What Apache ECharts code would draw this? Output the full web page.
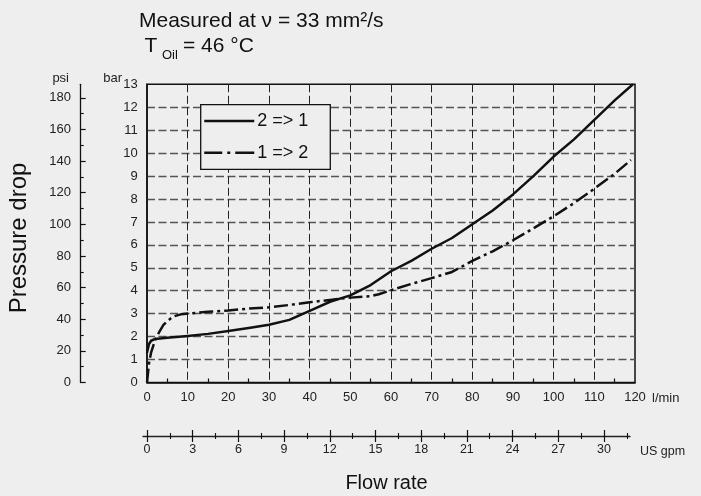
<!DOCTYPE html>
<html><head><meta charset="utf-8">
<script src="https://cdn.jsdelivr.net/npm/echarts@6/dist/echarts.min.js"></script>
<style>html,body{margin:0;padding:0;background:#edeeed}#c{width:701px;height:496px}</style>
</head><body><div id="c"></div>
<script>
// Data (l/min -> bar)
const flow21 = [0,0.5,1,2,5,10,15,20,25,30,35,40,45,50,55,60,65,70,75,80,85,90,95,100,105,110,115,119.5];
const drop21 = [1.3,1.68,1.82,1.9,1.95,2.03,2.12,2.25,2.38,2.52,2.73,3.12,3.52,3.8,4.25,4.85,5.3,5.83,6.3,6.9,7.5,8.2,9.0,9.85,10.6,11.45,12.3,13.0];
const flow12 = [0,0.5,1,2,3,4,5,6.5,8.5,11,15,20,25,30,35,40,45,50,55,57,60,65,70,75,80,85,90,95,100,105,110,115,119];
const drop12 = [0,0.85,1.3,1.85,2.2,2.5,2.68,2.88,2.98,3.02,3.08,3.14,3.22,3.28,3.38,3.5,3.6,3.7,3.76,3.85,4.02,4.3,4.55,4.82,5.3,5.72,6.2,6.72,7.25,7.82,8.45,9.1,9.7];
// Tick labels
const psiTicks = [0,20,40,60,80,100,120,140,160,180];
const psiMinor = [10,30,50,70,90,110,130,150,170];
const gpmTicks = [0,3,6,9,12,15,18,21,24,27,30];
const gpmMinor = [1.5,4.5,7.5,10.5,13.5,16.5,19.5,22.5,25.5,28.5,31.5];
const seriesNames = ['2 => 1', '1 => 2'];

const BAR_MAX = 13;
const PSI_PER_BAR = 14.5038;
const GPM_MIN = -0.263, GPM_MAX = 31.71;
const FF = 'Liberation Sans, Arial, sans-serif';
const INK = '#111';

const pairs = (xs, ys) => xs.map((x, i) => [x, ys[i]]);

const chart = echarts.init(document.getElementById('c'), null, {renderer: 'canvas'});
const gpmAxis = (extra) => Object.assign({
  type: 'value', gridIndex: 1, min: GPM_MIN, max: GPM_MAX, position: 'bottom',
  axisLine: {show: false}, axisLabel: {show: false}, splitLine: {show: false},
  axisTick: {show: true, lineStyle: {color: INK, width: 1.2}}
}, extra);

chart.setOption({
  backgroundColor: '#edeeed',
  animation: false,
  textStyle: {fontFamily: FF},
  title: [
    {text: 'Measured at ν = 33 mm²/s', left: 139, top: 10.3, padding: 0,
     textStyle: {fontSize: 21, fontWeight: 'normal', color: INK, fontFamily: FF}},
    {text: 'T', left: 144.5, top: 35.3, padding: 0,
     textStyle: {fontSize: 21, fontWeight: 'normal', color: INK, fontFamily: FF}},
    {text: 'Oil', left: 162, top: 48.5, padding: 0,
     textStyle: {fontSize: 13, fontWeight: 'normal', color: INK, fontFamily: FF}},
    {text: '= 46 °C', left: 183, top: 35.3, padding: 0,
     textStyle: {fontSize: 21, fontWeight: 'normal', color: INK, fontFamily: FF}}
  ],
  legend: {
    orient: 'vertical', left: 200.7, top: 104.7, padding: [7.3, 22, 7.6, 2.3],
    itemWidth: 50, itemHeight: 18, itemGap: 13.7, selectedMode: false,
    borderColor: INK, borderWidth: 1.3, backgroundColor: '#edeeed',
    itemStyle: {opacity: 0, borderWidth: 0},
    textStyle: {fontSize: 18, color: INK, fontFamily: FF, padding: [0, 0, 0, -2]},
    data: [
      {name: seriesNames[0], itemStyle: {opacity: 0}, lineStyle: {width: 2.5, color: INK}},
      {name: seriesNames[1], itemStyle: {opacity: 0}, lineStyle: {type: [18, 5, 3, 5, 19], width: 2.5, color: INK}}
    ]
  },
  grid: [
    {left: 147, right: 66, top: 84.3, bottom: 113.5, show: true, borderColor: INK, borderWidth: 1.5, backgroundColor: 'transparent'},
    {left: 143, right: 71, top: 435, height: 1}
  ],
  graphic: [
    {type: 'text', x: 19.5, y: 238, rotation: Math.PI / 2,
     style: {text: 'Pressure drop', fontSize: 24, fill: INK, align: 'center', verticalAlign: 'middle', fontFamily: FF}}
  ],
  xAxis: [
    {type: 'value', gridIndex: 0, min: 0, max: 120, interval: 10,
     name: 'l/min', nameLocation: 'end', nameGap: 17, nameMoveOverlap: false,
     nameTextStyle: {fontSize: 13, color: '#222', verticalAlign: 'top', padding: [9, 0, 0, 0]},
     axisLine: {show: true, lineStyle: {color: INK, width: 1.5}},
     axisTick: {show: false, inside: true},
     minorTick: {show: true, splitNumber: 2, length: 4, lineStyle: {color: INK, width: 1.2}},
     axisLabel: {fontSize: 13, color: '#222', margin: 8.5},
     splitLine: {show: true, showMinLine: false, showMaxLine: false, lineStyle: {type: [8, 3.5], color: '#222', width: 1}}},
    gpmAxis({axisLine: {show: true, lineStyle: {color: '#222', width: 1.3}},
      axisTick: {show: true, length: 6, customValues: gpmTicks, lineStyle: {color: INK, width: 1.2}},
      axisLabel: {show: true, customValues: gpmTicks, fontSize: 12.5, color: '#222', margin: 6.8},
      name: 'US gpm', nameLocation: 'end', nameGap: 10, nameMoveOverlap: false,
      nameTextStyle: {fontSize: 12.5, color: '#222', verticalAlign: 'top', padding: [9.5, 0, 0, 0]}}),
    gpmAxis({axisTick: {show: true, inside: true, length: 6, customValues: gpmTicks, lineStyle: {color: INK, width: 1.2}},
      name: 'Flow rate', nameLocation: 'middle', nameGap: 37.5, nameMoveOverlap: false,
      nameTextStyle: {fontSize: 20, color: INK}}),
    gpmAxis({axisTick: {show: true, length: 3, customValues: gpmMinor, lineStyle: {color: INK, width: 1.1}}}),
    gpmAxis({axisTick: {show: true, inside: true, length: 3, customValues: gpmMinor, lineStyle: {color: INK, width: 1.1}}})
  ],
  yAxis: [
    {type: 'value', gridIndex: 0, min: 0, max: BAR_MAX, interval: 1, position: 'left',
     name: 'bar', nameLocation: 'end', nameGap: 6, nameMoveOverlap: false,
     nameTextStyle: {fontSize: 13, color: '#222', align: 'right', verticalAlign: 'middle', padding: [0, 25, 0, 0]},
     axisLine: {show: true, lineStyle: {color: INK, width: 1.5}},
     axisTick: {show: false},
     axisLabel: {fontSize: 13, color: '#222', margin: 9.3},
     splitLine: {show: true, showMinLine: false, showMaxLine: false, lineStyle: {type: [8, 3.5], color: '#555', width: 1.3}}},
    {type: 'value', gridIndex: 0, min: 0, max: BAR_MAX * PSI_PER_BAR, position: 'left', offset: 66.3,
     name: 'psi', nameLocation: 'end', nameGap: 6, nameMoveOverlap: false,
     nameTextStyle: {fontSize: 13, color: '#222', align: 'right', verticalAlign: 'middle', padding: [0, 11.7, 0, 0]},
     axisLine: {show: true, lineStyle: {color: INK, width: 1.3}},
     axisTick: {show: true, inside: true, length: 5, customValues: psiTicks, lineStyle: {color: INK, width: 1.2}},
     axisLabel: {show: true, customValues: psiTicks, fontSize: 13, color: '#222', margin: 9.7},
     splitLine: {show: false}},
    {type: 'value', gridIndex: 0, min: 0, max: BAR_MAX * PSI_PER_BAR, position: 'left', offset: 66.3,
     axisLine: {show: false}, axisLabel: {show: false}, splitLine: {show: false},
     axisTick: {show: true, inside: true, length: 3, customValues: psiMinor, lineStyle: {color: INK, width: 1.1}}},
    {type: 'value', gridIndex: 1, min: 0, max: 1, show: false}
  ],
  series: [
    {type: 'line', name: seriesNames[0], xAxisIndex: 0, yAxisIndex: 0,
     data: pairs(flow21, drop21), symbol: 'none', showSymbol: false, smooth: false,
     itemStyle: {color: INK},
     lineStyle: {color: INK, width: 2.5, join: 'round'}},
    {type: 'line', name: seriesNames[1], xAxisIndex: 0, yAxisIndex: 0,
     data: pairs(flow12, drop12), symbol: 'none', showSymbol: false, smooth: false,
     itemStyle: {color: INK},
     lineStyle: {color: INK, width: 2.5, type: [14, 4, 3, 4], join: 'round'}}
  ]
});
</script></body></html>
